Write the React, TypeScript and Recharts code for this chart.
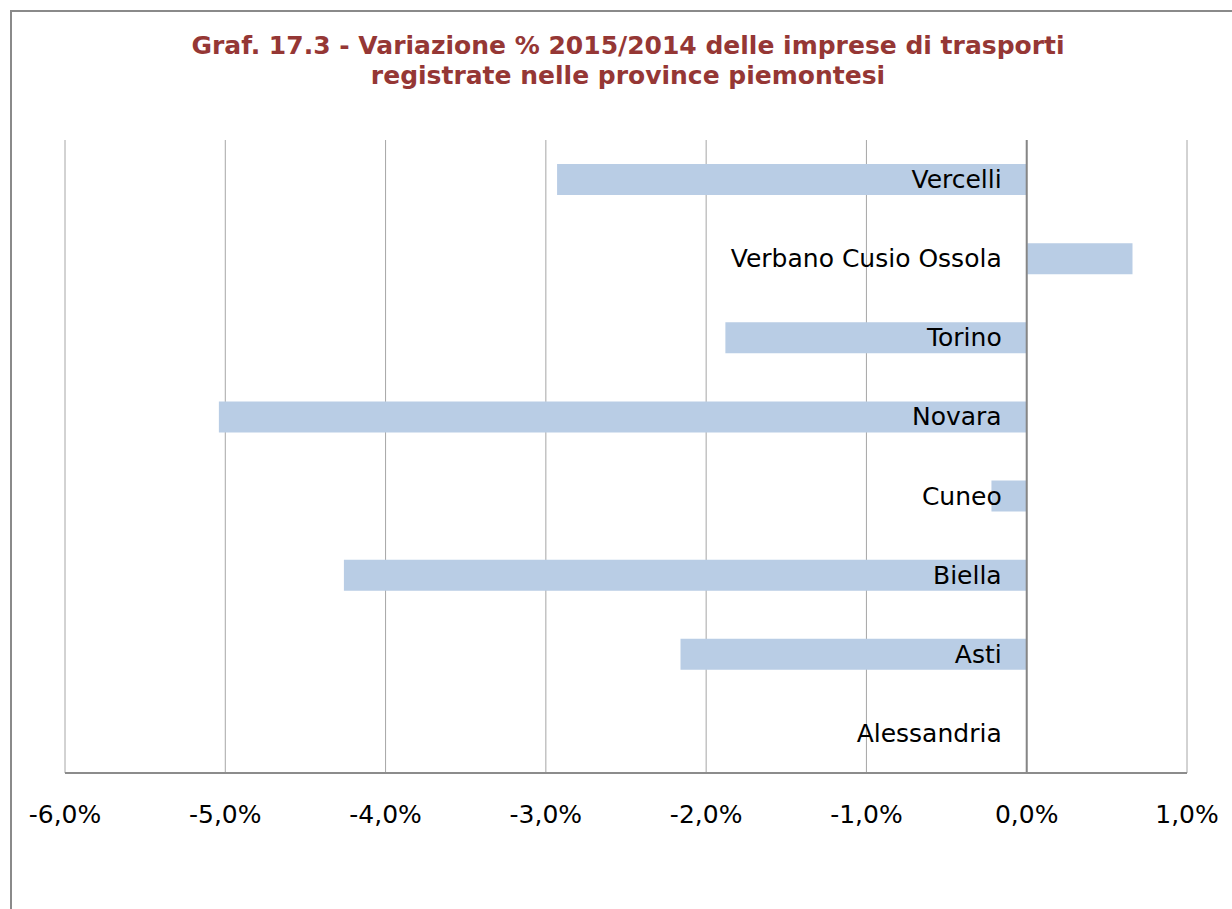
import React from 'react';
import { BarChart, Bar, XAxis, YAxis, CartesianGrid, ReferenceLine, ReferenceDot } from 'recharts';

const provinces = ['Vercelli', 'Verbano Cusio Ossola', 'Torino', 'Novara', 'Cuneo', 'Biella', 'Asti', 'Alessandria'];
const variations = [-2.93, 0.66, -1.88, -5.04, -0.22, -4.26, -2.16, 0];
const xTicks = [-6, -5, -4, -3, -2, -1, 0, 1];

const data = provinces.map((name, i) => ({ name, value: variations[i] }));

const fmt = (v: number) => `${v.toFixed(1).replace('.', ',')}%`;

const FONT = 'DejaVu Sans, Verdana, sans-serif';

const makeLabel = (label: string) => (props: any) => {
  const { cx, cy } = props;
  return (
    <text
      x={cx - 25}
      y={cy}
      textAnchor="end"
      dominantBaseline="central"
      fontSize={25}
      fontFamily={FONT}
      fill="#000"
    >
      {label}
    </text>
  );
};

export default function App() {
  return (
    <div style={{ position: 'fixed', left: 0, top: 0, width: 1232, height: 909, background: '#fff', overflow: 'hidden' }}>
      <div
        style={{
          position: 'absolute',
          left: 10,
          top: 10,
          width: 1222,
          height: 899,
          borderLeft: '2px solid #8a8a8a',
          borderTop: '2px solid #8a8a8a',
          boxSizing: 'border-box',
        }}
      />
      <div
        style={{
          position: 'absolute',
          left: 128,
          top: 31,
          width: 1000,
          textAlign: 'center',
          fontFamily: FONT,
          fontWeight: 'bold',
          fontSize: 25,
          lineHeight: '30px',
          color: '#953735',
          whiteSpace: 'nowrap',
        }}
      >
        Graf. 17.3 - Variazione % 2015/2014 delle imprese di trasporti
        <br />
        registrate nelle province piemontesi
      </div>
      <div style={{ position: 'absolute', left: 0, top: 0 }}>
        <BarChart
          width={1232}
          height={909}
          data={data}
          layout="vertical"
          margin={{ top: 140, right: 45, bottom: 96, left: 65 }}
        >
          <CartesianGrid horizontal={false} vertical={true} stroke="#a6a6a6" />
          <XAxis
            type="number"
            domain={[-6, 1]}
            ticks={xTicks}
            tickFormatter={fmt}
            height={40}
            axisLine={{ stroke: '#8c8c8c', strokeWidth: 2 }}
            tickLine={false}
            tickSize={0}
            tickMargin={32}
            tick={{ fontSize: 25, fill: '#000', fontFamily: FONT }}
            allowDataOverflow
          />
          <YAxis type="category" dataKey="name" hide width={0} />
          <ReferenceLine x={0} stroke="#868686" strokeWidth={2} />
          <Bar dataKey="value" fill="#B9CDE5" barSize={31} isAnimationActive={false} />
          {provinces.map((p) => (
            <ReferenceDot key={p} x={0} y={p} r={0} shape={makeLabel(p)} ifOverflow="visible" />
          ))}
        </BarChart>
      </div>
    </div>
  );
}
